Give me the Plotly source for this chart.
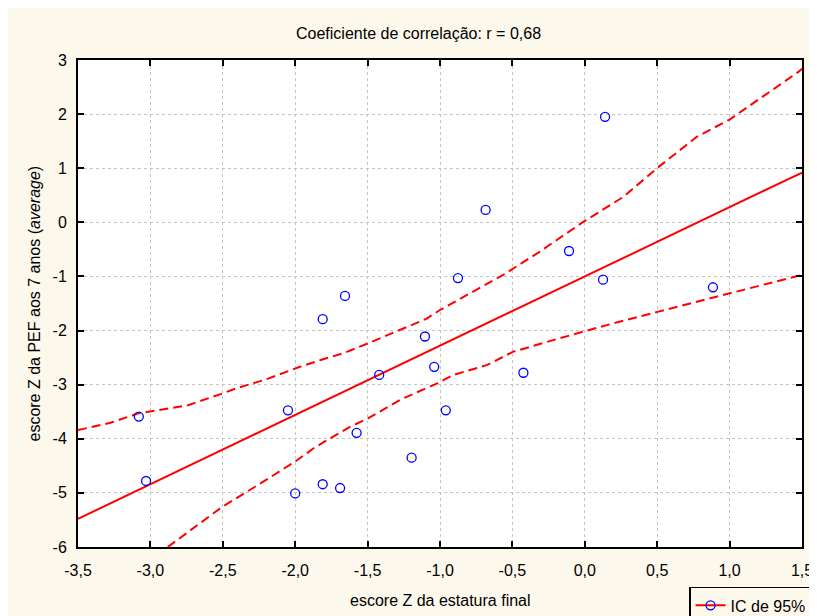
import plotly.graph_objects as go

# Scatter data
pts_x = [-3.08, -3.03, -2.05, -2.00, -1.81, -1.81, -1.69, -1.656, -1.576, -1.42, -1.196,
         -1.104, -1.04, -0.96, -0.876, -0.685, -0.424, -0.109, 0.126, 0.14, 0.885]
pts_y = [-3.59, -4.78, -3.475, -5.01, -1.79, -4.84, -4.91, -1.36, -3.89, -2.82, -4.35,
         -2.11, -2.67, -3.475, -1.03, 0.23, -2.78, -0.53, -1.06, 1.95, -1.2]

# Regression line
fit_x = [-3.5, 1.5]
fit_y = [-5.48, 0.92]

# Upper 95% CI curve
up_x = [-3.5, -3.27, -3.085, -3.0, -2.74, -2.5, -2.41, -2.21, -1.967, -1.83, -1.668, -1.5,
        -1.28, -1.092, -1.0, -0.747, -0.563, -0.31, -0.01, 0.266, 0.508, 0.773, 1.0, 1.475, 1.5]
up_y = [-3.84, -3.70, -3.53, -3.49, -3.38, -3.16, -3.07, -2.91, -2.67, -2.55, -2.42, -2.24,
        -1.99, -1.78, -1.62, -1.25, -0.97, -0.54, 0.01, 0.47, 1.02, 1.58, 1.90, 2.78, 2.84]

# Lower 95% CI curve
lo_x = [-2.88, -2.51, -2.165, -2.0, -1.875, -1.796, -1.622, -1.495, -1.276, -1.023, -0.908,
        -0.678, -0.494, -0.31, -0.17, -0.01, 0.151, 0.508, 0.773, 1.0, 1.5]
lo_y = [-6.0, -5.27, -4.70, -4.42, -4.18, -4.05, -3.78, -3.62, -3.28, -2.98, -2.82,
        -2.64, -2.39, -2.24, -2.14, -2.02, -1.90, -1.65, -1.47, -1.31, -0.97]

x_ticks = [-3.5, -3.0, -2.5, -2.0, -1.5, -1.0, -0.5, 0.0, 0.5, 1.0, 1.5]
x_tick_labels = ["-3,5", "-3,0", "-2,5", "-2,0", "-1,5", "-1,0", "-0,5", "0,0", "0,5", "1,0", "1,5"]
y_ticks = [-6, -5, -4, -3, -2, -1, 0, 1, 2, 3]
y_tick_labels = ["-6", "-5", "-4", "-3", "-2", "-1", "0", "1", "2", "3"]

title_text = "Coeficiente de correlação: r = 0,68"
x_title = "escore Z da estatura final"
y_title = "escore Z da PEF aos 7 anos (<i>average</i>)"
legend_label = "IC de 95%"

RED = "#ff0000"
BLUE = "#0000ff"
FONT = "Liberation Sans, Arial, sans-serif"
BG = "#fdf8ec"
FS = 16

fig = go.Figure()
fig.add_trace(go.Scatter(x=up_x, y=up_y, mode="lines", showlegend=False,
                         line=dict(color=RED, width=2, dash="9px,5px")))
fig.add_trace(go.Scatter(x=lo_x, y=lo_y, mode="lines", showlegend=False,
                         line=dict(color=RED, width=2, dash="9px,5px")))
fig.add_trace(go.Scatter(x=fit_x, y=fit_y, mode="lines", showlegend=False,
                         line=dict(color=RED, width=2)))
fig.add_trace(go.Scatter(x=pts_x, y=pts_y, mode="markers", showlegend=False,
                         marker=dict(symbol="circle-open", size=9, color=BLUE,
                                     line=dict(width=1.3, color=BLUE))))
# legend entry
fig.add_trace(go.Scatter(x=[None], y=[None], mode="lines+markers", name=legend_label,
                         line=dict(color=RED, width=2),
                         marker=dict(symbol="circle-open", size=9, color=BLUE,
                                     line=dict(width=1.3, color=BLUE))))

axis_common = dict(
    showgrid=True, gridcolor="#c4c4c4", griddash="dot", gridwidth=1,
    zeroline=False, showline=True, linecolor="black", linewidth=2, mirror="ticks",
    ticks="inside", ticklen=6, tickwidth=1.5, tickcolor="black",
    tickfont=dict(family=FONT, size=FS, color="black"),
)

fig.update_layout(
    width=809, height=608,
    margin=dict(l=70, r=15, t=52, b=69, autoexpand=False),
    paper_bgcolor=BG, plot_bgcolor="white",
    font=dict(family=FONT, size=FS, color="black"),
    xaxis=dict(range=[-3.5, 1.5], tickvals=x_ticks, ticktext=x_tick_labels,
               ticklabelstandoff=8, **axis_common),
    yaxis=dict(range=[-6, 3], tickvals=y_ticks, ticktext=y_tick_labels,
               ticklabelstandoff=6, **axis_common),
    showlegend=True,
    legend=dict(x=0.844, y=-0.082, xanchor="left", yanchor="top", itemwidth=30,
                bgcolor=BG, bordercolor="black", borderwidth=1.5,
                font=dict(family=FONT, size=FS, color="black")),
    annotations=[
        dict(text=title_text, xref="paper", yref="paper", x=0.47, y=1.0, yshift=27,
             xanchor="center", yanchor="middle", showarrow=False,
             font=dict(family=FONT, size=FS)),
        dict(text=x_title, xref="paper", yref="paper", x=0.5, y=0, yshift=-53,
             xanchor="center", yanchor="middle", showarrow=False,
             font=dict(family=FONT, size=FS)),
        dict(text=y_title, xref="paper", yref="paper", x=0, xshift=-44, y=0.5,
             xanchor="center", yanchor="middle", textangle=-90, showarrow=False,
             font=dict(family=FONT, size=FS)),
    ],
)

fig.write_html("out.html")
